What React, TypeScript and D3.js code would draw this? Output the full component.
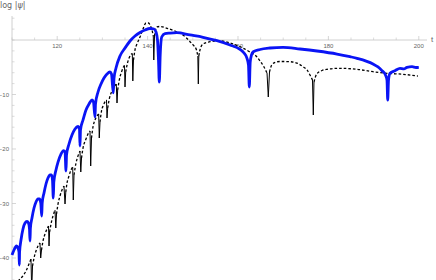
import * as d3 from 'd3';
import React from 'react';

// blue curve (t, log|psi|)
const blueT = [
  110.0, 110.44, 111.0, 111.33, 111.55, 111.62, 111.68, 111.99, 112.43, 112.88, 113.32, 113.65, 113.87, 113.98,
  114.07, 114.42, 114.87, 115.31, 115.75, 116.08, 116.37, 116.57,
  116.68, 117.08, 117.52, 117.96, 118.41, 118.74, 118.96, 119.14,
  119.25, 119.73, 120.18, 120.84, 121.39, 121.73, 121.95,
  122.06, 122.61, 123.27, 123.94, 124.6, 124.93, 125.04,
  125.15, 125.71, 126.37, 127.04, 127.7, 128.03, 128.36,
  128.47, 129.03, 129.69, 130.35, 131.02, 131.68, 132.01, 132.41,
  132.57, 133.01, 133.89, 135.0, 136.11, 137.21, 138.32, 139.42, 140.53, 141.42, 141.86, 142.19, 142.41, 142.59,
  142.79, 143.12, 143.85, 144.96, 146.5, 149.38, 152.26, 155.35, 158.23, 160.44, 161.33, 161.99, 162.32, 162.5,
  162.7, 162.99, 163.38, 164.87, 167.08, 169.96, 173.72, 177.48, 181.9, 184.78, 186.33, 189.87, 190.97, 191.86,
  192.52, 192.96, 193.12, 193.3, 193.63, 194.73, 195.84, 196.7, 197.39, 198.5, 199.38, 200.0,
];
const blueV = [
  -39.45, -38.53, -37.8, -38.17, -38.9, -41.28, -38.9, -36.7, -34.68, -33.58, -33.3, -33.58, -34.68, -36.88,
  -34.5, -32.66, -30.83, -29.72, -29.17, -29.17, -29.91, -32.29,
  -29.91, -28.07, -26.42, -25.32, -24.77, -24.77, -25.69, -28.99,
  -26.06, -23.85, -22.39, -20.92, -20.28, -20.55, -24.04,
  -21.1, -19.08, -17.43, -16.33, -15.87, -16.33, -19.45,
  -16.51, -14.68, -12.84, -11.74, -11.01, -11.38, -14.13,
  -11.74, -9.54, -8.07, -6.97, -6.24, -5.87, -6.24, -9.72,
  -6.97, -5.14, -2.94, -1.47, -0.18, 0.73, 1.38, 1.83, 2.11, 2.02, 1.47, 0.0, -3.67, -7.71,
  -2.75, 0.55, 1.19, 1.28, 1.34, 0.92, 0.5, -0.13, -0.92, -1.71, -2.39, -3.36, -4.59, -8.62,
  -4.04, -2.75, -2.15, -1.74, -1.47, -1.34, -1.65, -2.02, -2.57, -3.06, -3.36, -4.4, -4.95, -5.63,
  -6.24, -7.34, -11.01, -7.34, -6.11, -5.63, -5.19, -5.3, -5.01, -4.9, -5.05, -5.01,
];

// dashed curve: arcs between the zeros, and the zeros (t, depth)
const dashArcs: [number, number][][] = [
  [[111.33, -44.22], [112.21, -43.49], [113.1, -42.39], [113.76, -41.1], [114.2, -40.18]],
  [[114.54, -41.47], [114.87, -40.0], [115.31, -38.72], [115.75, -37.8], [116.19, -37.25]],
  [[116.53, -38.53], [116.86, -36.88], [117.3, -35.6], [117.74, -34.68], [118.08, -34.13]],
  [[118.32, -35.23], [118.63, -33.76], [119.07, -32.29], [119.51, -31.19]],
  [[119.85, -31.93], [120.18, -30.09], [120.62, -28.62], [121.06, -27.52], [121.5, -26.79]],
  [[121.9, -27.89], [122.17, -26.24], [122.61, -24.95], [123.05, -23.85], [123.43, -23.3]],
  [[123.72, -24.77], [124.16, -22.57], [124.6, -21.28], [125.04, -20.37]],
  [[125.38, -21.65], [125.71, -19.82], [126.37, -18.17], [126.81, -17.25], [127.26, -16.7]],
  [[127.59, -17.98], [127.92, -15.96], [128.36, -14.68], [128.81, -13.94], [129.18, -13.58]],
  [[129.47, -15.05], [129.8, -13.03], [130.24, -11.93], [130.69, -11.19], [130.91, -11.01]],
  [[131.17, -12.48], [131.57, -10.64], [132.12, -9.36], [132.68, -8.44], [133.07, -8.07]],
  [[133.38, -9.17], [133.78, -7.16], [134.23, -5.87], [134.67, -4.95], [134.89, -4.68]],
  [[135.15, -5.87], [135.55, -4.22], [136.0, -3.12], [136.44, -2.57], [136.62, -2.48]],
  [[136.88, -3.67], [137.21, -1.83], [137.65, -0.73], [138.32, 0.55], [138.98, 2.02], [139.65, 3.12],
    [140.2, 3.12], [140.64, 2.57], [140.97, 1.83], [141.26, 0.73]],
  [[141.53, 0.73], [141.75, 1.83], [142.08, 2.39], [142.74, 2.48], [144.29, 2.15], [146.06, 1.65],
    [147.17, 1.23], [148.5, 0.46], [149.38, -0.31], [150.27, -1.1], [150.82, -1.83], [151.11, -2.94]],
  [[151.33, -2.94], [151.59, -1.83], [152.26, -0.73], [153.81, -0.31], [156.02, -0.13], [158.23, -0.55],
    [160.44, -1.23], [162.65, -2.2], [163.98, -2.94], [164.87, -3.85], [165.75, -4.95], [166.42, -6.06]],
  [[166.97, -5.87], [167.46, -4.59], [168.41, -4.04], [169.29, -3.94], [171.5, -3.98], [173.27, -4.31],
    [174.38, -4.9], [175.27, -5.5], [175.93, -6.42], [176.48, -7.34]],
  [[176.81, -7.71], [177.41, -6.24], [178.58, -5.6], [179.69, -5.38], [182.57, -5.19], [186.33, -5.38],
    [189.87, -5.82], [192.96, -6.11], [196.5, -6.29], [199.82, -6.61]],
];
const dipT = [114.36, 116.35, 118.19, 119.69, 121.73, 123.56, 125.22, 127.41, 129.31, 131.02, 133.23, 135.0, 136.73, 141.37, 151.22, 166.7, 176.66];
const dipV = [-46, -40.0, -37.8, -34.5, -30.09, -29.36, -24.22, -23.12, -17.98, -14.31, -11.56, -8.62, -7.52, -3.67, -8.07, -10.46, -13.76];

const xTicks = [120, 140, 160, 180, 200];
const yTicks = [-10, -20, -30, -40];

export default function App() {
  const W = 436;
  const H = 280;
  const x = d3.scaleLinear().domain([110, 200]).range([12, 418.8]);
  const y = d3.scaleLinear().domain([0, -40]).range([40, 258]);

  const line = d3
    .line<[number, number]>()
    .x((d) => x(d[0]))
    .y((d) => y(d[1]))
    .curve(d3.curveMonotoneX);
  const straight = d3
    .line<[number, number]>()
    .x((d) => x(d[0]))
    .y((d) => y(d[1]));

  const blue = blueT.map((t, i) => [t, blueV[i]] as [number, number]);

  // the spikes of the dashed curve at its zeros
  const spikes = dipT.map((t, i) => {
    const pts: [number, number][] = [];
    pts.push(dashArcs[i][dashArcs[i].length - 1]);
    pts.push([t, dipV[i]]);
    if (dashArcs[i + 1]) pts.push(dashArcs[i + 1][0]);
    return pts;
  });

  const minorX = d3.range(110, 201, 5).filter((v) => v % 20 !== 0);
  const minorY = d3.range(-44, 5, 2).filter((v) => v % 10 !== 0 || v === 0);

  const font = 'Liberation Sans, Arial, sans-serif';

  return (
    <svg width={W} height={H} style={{ position: 'absolute', left: 0, top: 0, background: '#fff' }}>
      {/* axes */}
      <line x1={x(110)} x2={427} y1={y(0)} y2={y(0)} stroke="#c4c4c4" strokeWidth={0.8} />
      <line x1={x(110)} x2={x(110)} y1={16} y2={H} stroke="#c4c4c4" strokeWidth={0.8} />
      {minorX.map((v) => (
        <line key={'mx' + v} x1={x(v)} x2={x(v)} y1={y(0)} y2={y(0) - 2.5} stroke="#c4c4c4" strokeWidth={0.6} />
      ))}
      {xTicks.map((v) => (
        <g key={'x' + v}>
          <line x1={x(v)} x2={x(v)} y1={y(0)} y2={y(0) - 4} stroke="#c4c4c4" strokeWidth={0.7} />
          <text x={x(v)} y={y(0) + 8} textAnchor="middle" fontSize={6} fontFamily={font} fill="#666">
            {v}
          </text>
        </g>
      ))}
      {minorY.map((v) => (
        <line key={'my' + v} x1={x(110)} x2={x(110) + 2.5} y1={y(v)} y2={y(v)} stroke="#c4c4c4" strokeWidth={0.6} />
      ))}
      {yTicks.map((v) => (
        <g key={'y' + v}>
          <line x1={x(110)} x2={x(110) + 4} y1={y(v)} y2={y(v)} stroke="#c4c4c4" strokeWidth={0.7} />
          <text x={x(110) - 3} y={y(v) + 2} textAnchor="end" fontSize={6} fontFamily={font} fill="#666">
            {'\u2212' + Math.abs(v)}
          </text>
        </g>
      ))}
      <text x={0} y={8} fontSize={8} fontFamily="DejaVu Sans, sans-serif" fill="#666">
        log |<tspan fontStyle="italic">ψ</tspan>|
      </text>
      <text x={431} y={42} fontSize={8} fontFamily={font} fill="#666">
        t
      </text>

      {/* dashed curve */}
      {spikes.map((s, i) => (
        <path key={'s' + i} d={straight(s) ?? ''} fill="none" stroke="#000" strokeWidth={1} />
      ))}
      {dashArcs.map((a, i) => (
        <path
          key={'a' + i}
          d={line(a) ?? ''}
          fill="none"
          stroke="#000"
          strokeWidth={1.3}
          strokeDasharray="2.6,2"
        />
      ))}

      {/* blue curve */}
      <path d={line(blue) ?? ''} fill="none" stroke="#0a14f5" strokeWidth={2.8} strokeLinejoin="round" />
    </svg>
  );
}
